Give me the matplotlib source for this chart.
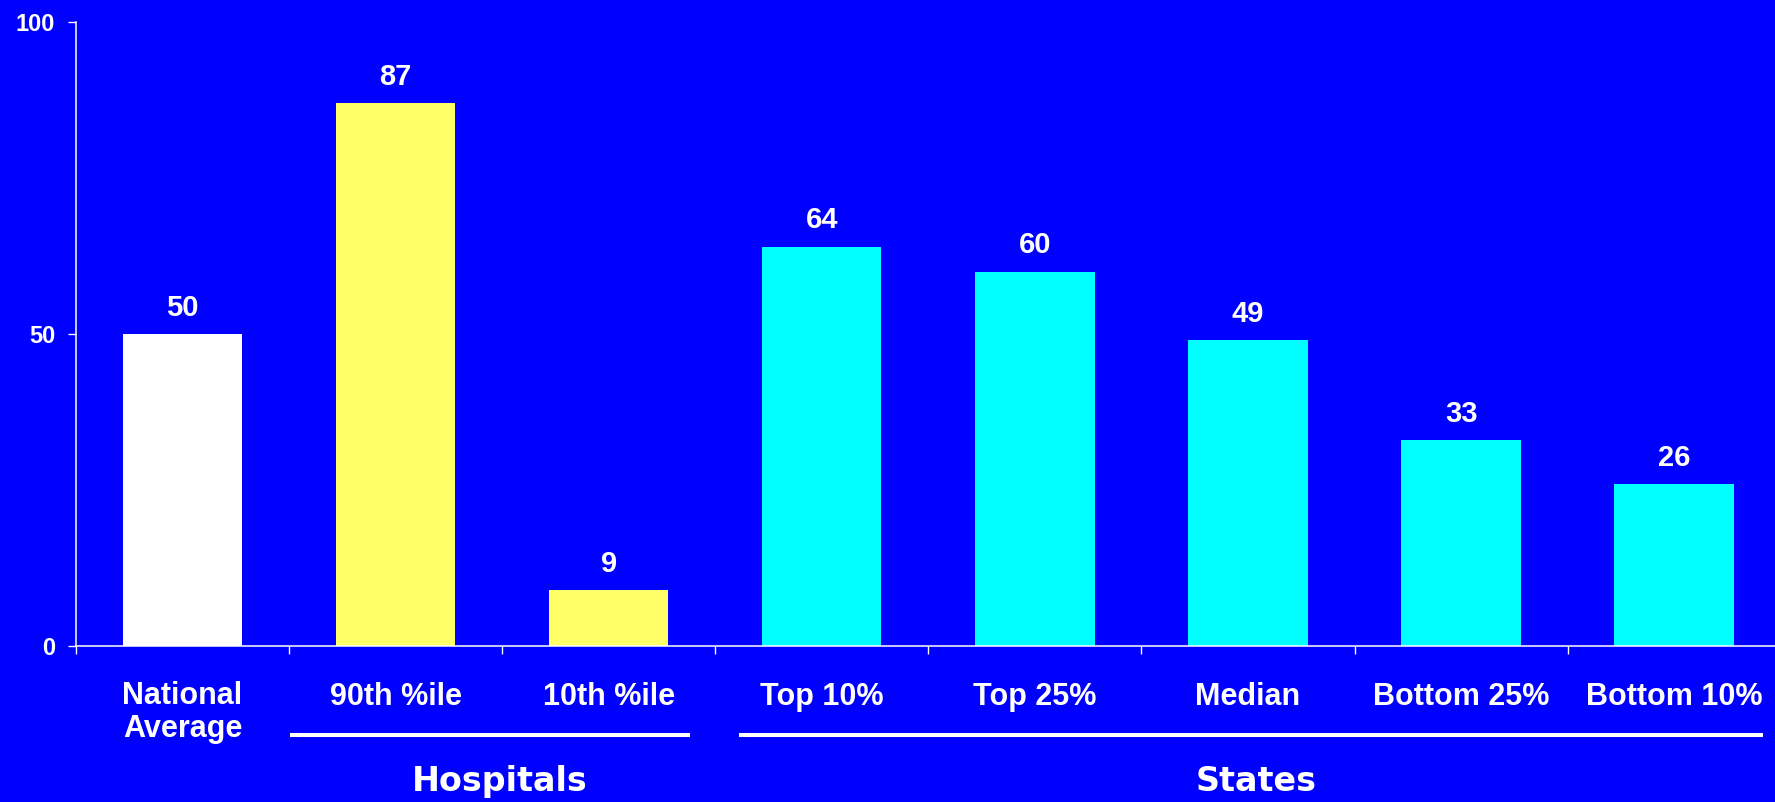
import matplotlib

matplotlib.use("Agg")
import matplotlib.pyplot as plt

categories = ["National\nAverage", "90th %ile", "10th %ile", "Top 10%",
              "Top 25%", "Median", "Bottom 25%", "Bottom 10%"]
values = [50, 87, 9, 64, 60, 49, 33, 26]
bar_colors = ["#FFFFFF", "#FFFF66", "#FFFF66", "#00FFFF",
              "#00FFFF", "#00FFFF", "#00FFFF", "#00FFFF"]
y_ticks = [0, 50, 100]

# group brackets: (label, line start, line end, label centre) in data x
groups = [("Hospitals", 0.504, 2.381, 1.49), ("States", 2.611, 7.416, 5.04)]

BG = "#0000FF"
SANS = ["Liberation Sans", "DejaVu Sans"]
WIDE = ["DejaVu Sans"]
LABEL_BASE = -0.0938   # baseline of the first label line, axes fraction
LINE_STEP = 0.0512     # one label line, axes fraction

fig = plt.figure(figsize=(17.75, 8.02), dpi=100, facecolor=BG)
ax = fig.add_axes([0.0428, 0.194, 0.9604, 0.779], facecolor=BG)

x = list(range(len(values)))
bars = ax.bar(x, values, width=0.56, color=bar_colors, edgecolor="none", zorder=2)
for bar, v in zip(bars, values):
    ax.text(bar.get_x() + bar.get_width() / 2, v + 2.9, str(v),
            ha="center", va="baseline", color="white", fontsize=21,
            fontweight="bold", family=SANS)

ax.set_xlim(-0.5, len(values) - 0.5)
ax.set_ylim(0, 100)
ax.set_yticks(y_ticks)
ax.set_yticklabels([str(t) for t in y_ticks], color="white", fontsize=17,
                   fontweight="bold", family=SANS)
ax.set_xticks([i - 0.5 for i in x] + [len(values) - 0.5])
ax.set_xticklabels([])
ax.tick_params(axis="both", colors="white", length=6, width=1.0, direction="out")
ax.tick_params(axis="y", pad=9)

for side in ("top", "right"):
    ax.spines[side].set_visible(False)
for side in ("left", "bottom"):
    ax.spines[side].set_color("white")
    ax.spines[side].set_linewidth(1.1)

trans = ax.get_xaxis_transform()
for i, label in enumerate(categories):
    # baseline alignment pins the last line, so push multi-line labels down
    y = LABEL_BASE - LINE_STEP * label.count("\n")
    ax.text(i, y, label, transform=trans, ha="center", va="baseline",
            color="white", fontsize=22, fontweight="bold", family=SANS,
            linespacing=1.11)

for name, x0, x1, xc in groups:
    ax.plot([x0, x1], [-0.1418, -0.1418], transform=trans, color="white",
            linewidth=2.9, clip_on=False, solid_capstyle="butt")
    ax.text(xc, -0.2314, name, transform=trans, ha="center", va="baseline",
            color="white", fontsize=24, fontweight="bold", family=WIDE)

fig.savefig("out.png", dpi=100, facecolor=BG)
